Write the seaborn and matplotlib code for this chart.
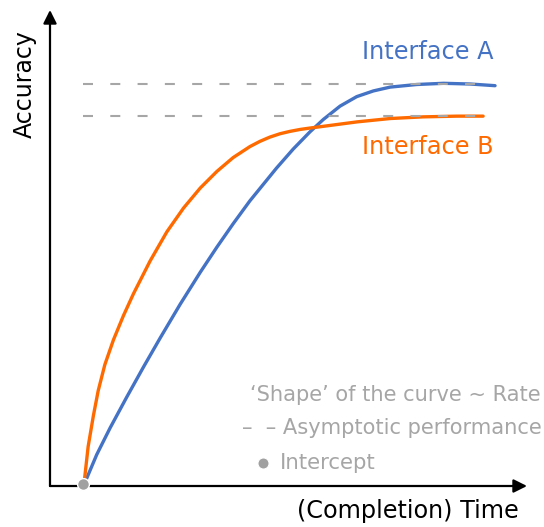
import numpy as np
import pandas as pd
import seaborn as sns
import matplotlib.pyplot as plt

sns.set_theme(style="white")
plt.rcParams["font.family"] = ["DejaVu Sans"]

# --- data (arbitrary time / accuracy units 0..100) ---
time_a = [7.1, 9.8, 12.6, 16.1, 19.6, 23.1, 27.3, 31.5, 35.0, 38.4, 41.9,
          47.5, 51.0, 54.5, 57.3, 60.8, 64.3, 67.8, 71.3, 76.9, 82.5, 88.1,
          93.3]
acc_a = [0.2, 6.6, 12.2, 18.7, 25.0, 31.1, 38.2, 44.9, 50.2, 55.1, 59.9,
         66.8, 70.8, 74.4, 77.0, 79.8, 81.8, 83.0, 83.8, 84.35, 84.6, 84.45,
         84.1]

time_b = [7.1, 8.0, 9.1, 10.1, 11.5, 13.3, 15.4, 17.5, 21.0, 24.5, 28.0,
          31.5, 35.0, 38.4, 41.9, 44.0, 46.1, 48.2, 50.3, 52.4, 54.5, 57.2,
          64.4, 71.3, 78.2, 85.3, 90.8]
acc_b = [0.2, 8.3, 14.8, 20.0, 25.5, 30.7, 35.8, 40.4, 47.3, 53.4, 58.4,
         62.6, 66.1, 69.0, 71.3, 72.4, 73.3, 74.0, 74.5, 74.9, 75.2, 75.55,
         76.5, 77.2, 77.55, 77.7, 77.7]

asymptote_a = 84.45
asymptote_b = 77.7
asym_start, asym_end = 6.9, 89.5
intercept = (7.0, 0.35)

labels = ["Interface A", "Interface B"]
colors = {"Interface A": "#4472C4", "Interface B": "#FF6A00"}
grey = "#A6A6A6"

df = pd.concat([
    pd.DataFrame({"time": time_a, "acc": acc_a, "iface": labels[0]}),
    pd.DataFrame({"time": time_b, "acc": acc_b, "iface": labels[1]}),
])

fig = plt.figure(figsize=(5.44, 5.27), dpi=100)
ax = fig.add_axes([50 / 544, 41 / 527, 477 / 544, 476 / 527])
ax.set_xlim(0, 100)
ax.set_ylim(0, 100)
ax.axis("off")

# asymptotes
for yv in (asymptote_a, asymptote_b):
    ax.plot([asym_start, asym_end], [yv, yv], color=grey, lw=1.5,
            linestyle=(0, (4.8, 8.3)), zorder=3)

sns.lineplot(data=df, x="time", y="acc", hue="iface", palette=colors,
             lw=2.4, legend=False, ax=ax, zorder=2, sort=False)

ax.plot(*intercept, "o", ms=8.5, color="#A0A0A0", mec="white", mew=1,
        zorder=5, clip_on=False)

# axes with arrows
arrow = dict(arrowstyle="-|>,head_length=0.8,head_width=0.4", color="black",
             lw=1.6, mutation_scale=10, shrinkA=0, shrinkB=0)
ax.annotate("", xy=(0, 1), xytext=(0, 0), xycoords="axes fraction",
            arrowprops=arrow, annotation_clip=False)
ax.annotate("", xy=(1, 0), xytext=(0, 0), xycoords="axes fraction",
            arrowprops=arrow, annotation_clip=False)

ax.text(-5.3, 84.5, "Accuracy", rotation=90, ha="center", va="center",
        fontsize=17, color="black", clip_on=False)
ax.text(98.2, -5.2, "(Completion) Time", ha="right", va="center",
        fontsize=17.2, color="black", clip_on=False)

ax.text(65.4, 91.2, labels[0], color=colors[labels[0]], fontsize=17.3,
        ha="left", va="center")
ax.text(65.4, 71.2, labels[1], color=colors[labels[1]], fontsize=17.3,
        ha="left", va="center")

# explanatory key
ax.text(102.9, 19.1, "\u2018Shape\u2019 of the curve ~ Rate", color=grey,
        fontsize=15.1, ha="right", va="center", clip_on=False)
ax.text(103.1, 12.2, "\u2013  \u2013 Asymptotic performance", color=grey,
        fontsize=15.1, ha="right", va="center", clip_on=False)
ax.plot(44.7, 4.8, "o", ms=8, color="#A0A0A0", mec="white", mew=0.8,
        clip_on=False)
ax.text(48.2, 4.8, "Intercept", color=grey, fontsize=15.3, ha="left",
        va="center", clip_on=False)

fig.savefig("out.png", dpi=100)
